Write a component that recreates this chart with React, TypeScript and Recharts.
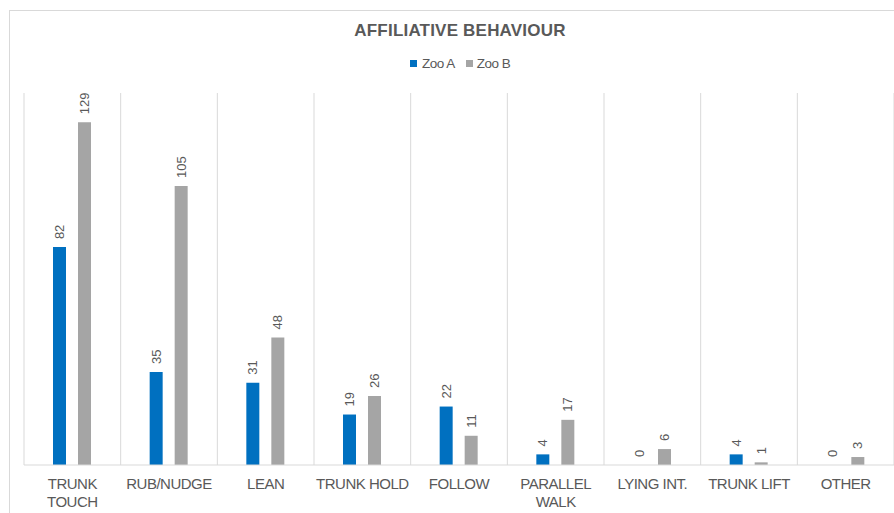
import { BarChart, Bar, XAxis, YAxis, CartesianGrid, LabelList } from "recharts";

const categories = [
  "TRUNK\nTOUCH",
  "RUB/NUDGE",
  "LEAN",
  "TRUNK HOLD",
  "FOLLOW",
  "PARALLEL\nWALK",
  "LYING INT.",
  "TRUNK LIFT",
  "OTHER",
];
const zooA = [82, 35, 31, 19, 22, 4, 0, 4, 0];
const zooB = [129, 105, 48, 26, 11, 17, 6, 1, 3];

const data = categories.map((label, i) => ({ label, zooA: zooA[i], zooB: zooB[i] }));

const FONT = "'Liberation Sans', Arial, sans-serif";
const TEXT = "#595959";
const BLUE = "#0070C0";
const GRAY = "#A5A5A5";

const CatTick = (props: any) => {
  const { x, y, payload } = props;
  const lines = String(payload.value).split("\n");
  return (
    <text x={x} y={y} textAnchor="middle" fill={TEXT} fontSize={15} fontFamily={FONT} letterSpacing={-0.5}>
      {lines.map((l, i) => (
        <tspan key={i} x={x} dy={i === 0 ? 16 : 18}>{l}</tspan>
      ))}
    </text>
  );
};

const ValueLabel = (props: any) => {
  const { x, y, width, value } = props;
  const cx = x + width / 2;
  const cy = y - 8;
  return (
    <text x={cx} y={cy} transform={`rotate(-90, ${cx}, ${cy})`} textAnchor="start" dominantBaseline="central"
      fill={TEXT} fontSize={13} fontFamily={FONT}>
      {String(value)}
    </text>
  );
};

// tiny height for zero values so their "0" labels still get drawn
const zeroMin = (v: any) => (Number(v) === 0 ? 0.01 : 0);

export default function App() {
  return (
    <div style={{ position: "absolute", left: 0, top: 0, width: 894, height: 513, overflow: "hidden", background: "#fff", fontFamily: FONT }}>
      <div style={{ position: "absolute", left: 9, top: 10, width: 900, height: 520, border: "1px solid #d9d9d9" }} />
      <div style={{ position: "absolute", left: 0, width: 920, top: 21, textAlign: "center", fontWeight: "bold", fontSize: 17, color: TEXT, letterSpacing: 0.2 }}>
        AFFILIATIVE BEHAVIOUR
      </div>
      <div style={{ position: "absolute", left: 410, top: 56, display: "flex", alignItems: "center", fontSize: 13.5, color: TEXT, letterSpacing: -0.5 }}>
        <span style={{ width: 7, height: 7, background: BLUE, display: "inline-block", marginRight: 5 }} />
        <span>Zoo A</span>
        <span style={{ width: 7, height: 7, background: GRAY, display: "inline-block", marginLeft: 11, marginRight: 4 }} />
        <span>Zoo B</span>
      </div>
      <div style={{ position: "absolute", left: 0, top: 0 }}>
        <BarChart width={894} height={513} data={data} margin={{ top: 93, right: 0, left: 24, bottom: 8 }}
          barSize={13} barGap={12}>
          <CartesianGrid horizontal={false} stroke="#d9d9d9"
            verticalCoordinatesGenerator={({ offset }: any) =>
              categories.map((_, i) => offset.left + (i * offset.width) / categories.length).concat([offset.left + offset.width])
            } />
          <XAxis dataKey="label" interval={0} height={40} tickLine={false} axisLine={{ stroke: "#d9d9d9" }} tick={<CatTick />} />
          <YAxis hide domain={[0, 140]} />
          <Bar dataKey="zooA" name="Zoo A" fill={BLUE} minPointSize={zeroMin} isAnimationActive={false}>
            <LabelList dataKey="zooA" content={<ValueLabel />} />
          </Bar>
          <Bar dataKey="zooB" name="Zoo B" fill={GRAY} minPointSize={zeroMin} isAnimationActive={false}>
            <LabelList dataKey="zooB" content={<ValueLabel />} />
          </Bar>
        </BarChart>
      </div>
    </div>
  );
}
